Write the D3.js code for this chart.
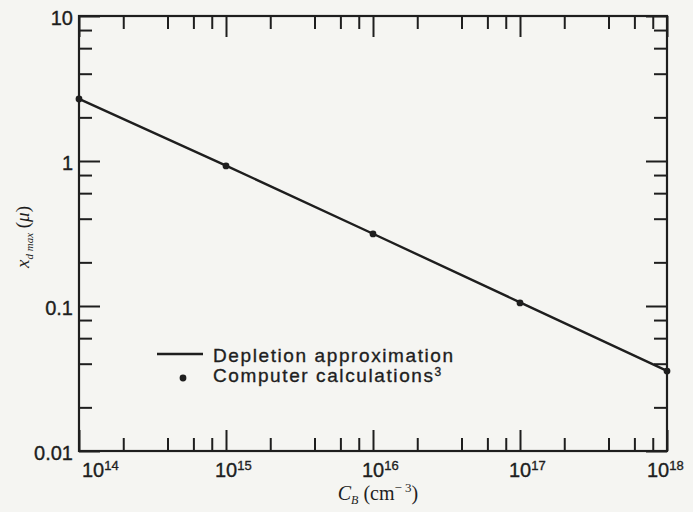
<!DOCTYPE html>
<html lang="en">
  <head>
    <meta charset="UTF-8" />
    <title>Maximum depletion width vs doping</title>
    <script src="https://d3js.org/d3.v7.min.js"></script>
    <style>
      html,
      body {
        margin: 0;
        padding: 0;
        background-color: #f5f5f2;
      }
      .sans {
        font-family: "Liberation Sans", Arial, sans-serif;
        fill: #1e1e1e;
        stroke: #1e1e1e;
        stroke-width: 0.35px;
      }
      .serif {
        font-family: "Liberation Serif", "Times New Roman", serif;
        fill: #1e1e1e;
      }
    </style>
  </head>
  <body>
    <div id="viz"></div>
    <script>
      // doping concentration C_B (cm^-3)
      const dopings = [1e14, 1e15, 1e16, 1e17, 1e18];
      // depletion approximation x_dmax (micron)
      const depletionValues = [2.68, 0.93, 0.315, 0.106, 0.0357];
      // computer calculations (dots)
      const computerValues = [2.68, 0.925, 0.314, 0.105, 0.0356];

      const xExponents = [14, 15, 16, 17, 18];
      const yTickValues = [0.01, 0.1, 1, 10];
      const yTickLabels = ["0.01", "0.1", "1", "10"];
      const minorMultipliers = [2, 4, 6, 8];
      const legendLabels = ["Depletion approximation", "Computer calculations"];

      const W = 693,
        H = 512;
      const margin = { top: 16, right: 26, bottom: 61, left: 79 };
      const ink = "#1e1e1e";

      const svg = d3
        .select("#viz")
        .append("svg")
        .attr("width", W)
        .attr("height", H)
        .style("display", "block");

      svg.append("rect").attr("width", W).attr("height", H).attr("fill", "#f5f5f2");

      const x = d3
        .scaleLog()
        .domain([1e14, 1e18])
        .range([margin.left, W - margin.right]);
      const y = d3
        .scaleLog()
        .domain([0.01, 10])
        .range([H - margin.bottom, margin.top]);

      // minor tick values
      const xMinor = [];
      xExponents.slice(0, -1).forEach((e) => {
        minorMultipliers.forEach((m) => xMinor.push(m * Math.pow(10, e)));
      });
      const yMinor = [];
      yTickValues.slice(0, -1).forEach((v) => {
        minorMultipliers.forEach((m) => yMinor.push(m * v));
      });
      const xMajor = xExponents.map((e) => Math.pow(10, e));

      function styleAxis(g) {
        g.select(".domain").remove();
        g.selectAll("line").attr("stroke", ink).attr("stroke-width", 2);
      }

      const x0 = x.range()[0],
        x1 = x.range()[1],
        y0 = y.range()[0],
        y1 = y.range()[1];

      // inward ticks on all four sides
      [
        [d3.axisBottom, `translate(0,${y0})`, x, xMinor, xMajor],
        [d3.axisTop, `translate(0,${y1})`, x, xMinor, xMajor],
        [d3.axisLeft, `translate(${x0},0)`, y, yMinor, yTickValues],
        [d3.axisRight, `translate(${x1},0)`, y, yMinor, yTickValues],
      ].forEach(([axisFn, tr, sc, minor, major]) => {
        svg
          .append("g")
          .attr("transform", tr)
          .call(axisFn(sc).tickValues(minor).tickSize(-13).tickFormat(""))
          .call(styleAxis);
        svg
          .append("g")
          .attr("transform", tr)
          .call(axisFn(sc).tickValues(major).tickSize(-21).tickFormat(""))
          .call(styleAxis);
      });

      // frame
      svg
        .append("rect")
        .attr("x", x0)
        .attr("y", y1)
        .attr("width", x1 - x0)
        .attr("height", y0 - y1)
        .attr("fill", "none")
        .attr("stroke", ink)
        .attr("stroke-width", 2.2);

      // x tick labels (10^n)
      const xl = svg
        .selectAll("text.xlab")
        .data(xExponents)
        .join("text")
        .attr("class", "xlab sans")
        .attr("x", (d, i) => {
          const px = x(Math.pow(10, d));
          if (i === 0) return px + 3;
          if (i === xExponents.length - 1) return px - 20;
          return px - 11;
        })
        .attr("y", 477)
        .style("font-size", "20px");
      xl.append("tspan").text("10");
      xl.append("tspan")
        .attr("dy", -7)
        .style("font-size", "13px")
        .text((d) => d);

      // y tick labels
      svg
        .selectAll("text.ylab")
        .data(yTickValues)
        .join("text")
        .attr("class", "ylab sans")
        .attr("x", 73)
        .attr("y", (d) => y(d))
        .attr("dy", "0.45em")
        .attr("text-anchor", "end")
        .style("font-size", "20px")
        .text((d, i) => yTickLabels[i]);

      // depletion approximation line
      const line = d3
        .line()
        .x((d, i) => x(dopings[i]))
        .y((d) => y(d));
      svg
        .append("path")
        .datum(depletionValues)
        .attr("d", line)
        .attr("fill", "none")
        .attr("stroke", ink)
        .attr("stroke-width", 2.4);

      // computer calculation points
      svg
        .selectAll("circle.pt")
        .data(computerValues)
        .join("circle")
        .attr("class", "pt")
        .attr("cx", (d, i) => x(dopings[i]))
        .attr("cy", (d) => y(d))
        .attr("r", 3.4)
        .attr("fill", ink);

      // legend
      svg
        .append("line")
        .attr("x1", 157)
        .attr("x2", 203)
        .attr("y1", 354)
        .attr("y2", 354)
        .attr("stroke", ink)
        .attr("stroke-width", 2.4);
      svg
        .append("circle")
        .attr("cx", 183)
        .attr("cy", 378)
        .attr("r", 3.4)
        .attr("fill", ink);
      const leg = svg
        .selectAll("text.leg")
        .data(legendLabels)
        .join("text")
        .attr("class", "leg sans")
        .attr("x", 213)
        .attr("y", (d, i) => 362 + i * 20)
        .style("font-size", "19px")
        .style("letter-spacing", "1.6px")
        .text((d) => d);
      leg
        .filter((d, i) => i === 1)
        .append("tspan")
        .attr("dy", -6)
        .style("font-size", "12px")
        .text("3");

      // x axis title
      const xt = svg
        .append("text")
        .attr("class", "serif")
        .attr("x", 378)
        .attr("y", 500)
        .attr("text-anchor", "middle")
        .style("font-size", "20px");
      xt.append("tspan").style("font-style", "italic").text("C");
      xt.append("tspan")
        .attr("dy", 4)
        .style("font-style", "italic")
        .style("font-size", "12px")
        .text("B");
      xt.append("tspan").attr("dy", -4).text(" (cm");
      xt.append("tspan").attr("dy", -8).style("font-size", "13px").text("− 3");
      xt.append("tspan").attr("dy", 8).text(")");

      // y axis title
      const yt = svg
        .append("text")
        .attr("class", "serif")
        .attr("transform", "translate(29,237) rotate(-90)")
        .attr("text-anchor", "middle")
        .style("font-size", "19px");
      yt.append("tspan").style("font-style", "italic").text("x");
      yt.append("tspan")
        .attr("dy", 4)
        .style("font-size", "11px")
        .style("font-style", "italic")
        .text("d max");
      yt.append("tspan").attr("dy", -4).text(" (");
      yt.append("tspan").style("font-style", "italic").text("μ");
      yt.append("tspan").text(")");
    </script>
  </body>
</html>
